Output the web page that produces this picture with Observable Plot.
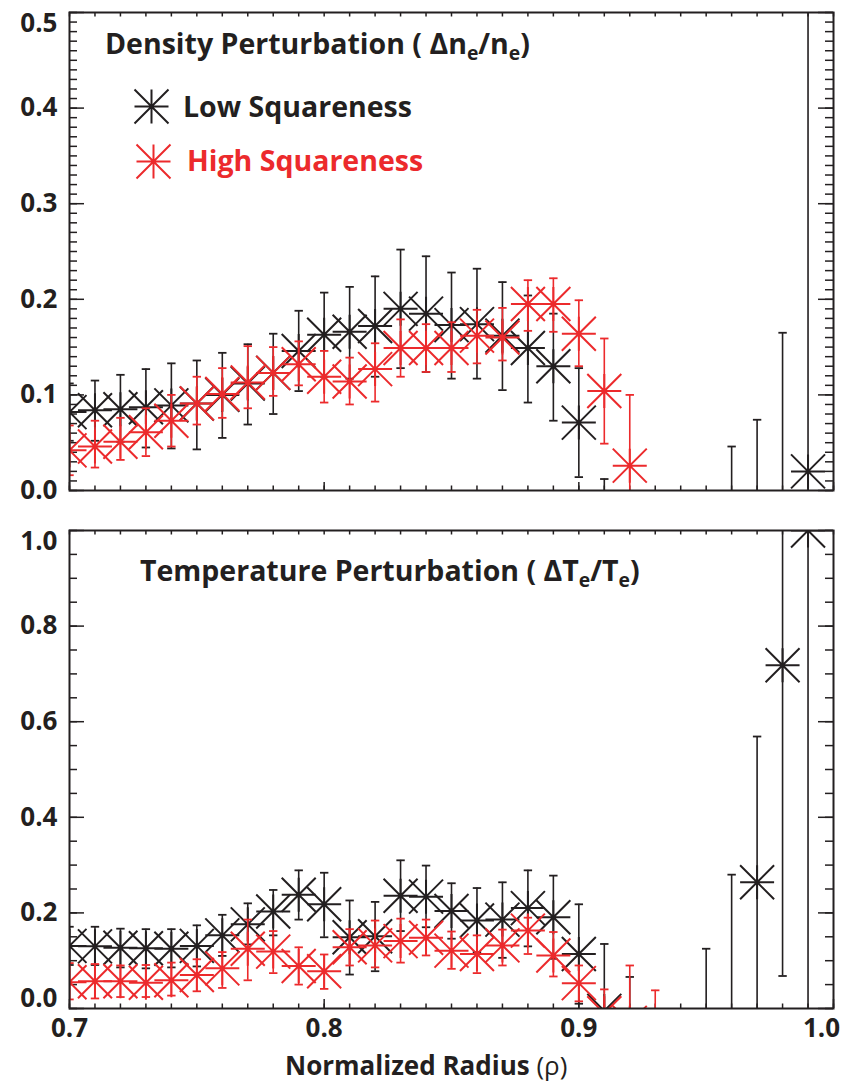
<!DOCTYPE html>
<html><head><meta charset="utf-8">
<script src="https://cdn.jsdelivr.net/npm/d3@7"></script>
<script src="https://cdn.jsdelivr.net/npm/@observablehq/plot@0.6"></script>
<style>
body{margin:0;background:#fff;}
#wrap{position:relative;width:846px;height:1082px;overflow:hidden;font-family:"Open Sans",sans-serif;color:#231f20;}
#wrap svg{display:block;}
.t{position:absolute;font-weight:700;white-space:nowrap;line-height:1;}
.t sub{font-size:0.68em;vertical-align:-0.32em;line-height:0;}
</style></head><body><div id="wrap"></div>
<script>
// ---------------- data ----------------
// Top panel: density perturbation, low squareness (black)
const denLowR  = [0.70,0.71,0.72,0.73,0.74,0.75,0.76,0.77,0.78,0.79,0.80,0.81,0.82,0.83,0.84,0.85,0.86,0.87,0.88,0.89,0.90,0.91,0.96,0.97,0.98,0.99];
const denLowV  = [0.082,0.084,0.085,0.087,0.089,0.091,0.100,0.112,0.123,0.146,0.163,0.166,0.172,0.190,0.185,0.173,0.174,0.162,0.149,0.130,0.071,-0.04,-0.05,-0.05,-0.05,0.020];
const denLowHi = [0.112,0.115,0.121,0.127,0.133,0.136,0.144,0.153,0.164,0.188,0.207,0.213,0.224,0.252,0.245,0.228,0.232,0.218,0.204,0.185,0.128,0.012,0.046,0.074,0.165,0.60];
const denLowLo = [0.052,0.052,0.051,0.045,0.044,0.043,0.055,0.069,0.080,0.104,0.119,0.117,0.119,0.128,0.124,0.117,0.117,0.105,0.092,0.073,0.014,-0.10,-0.15,-0.15,-0.15,-0.60];
// Top panel: density perturbation, high squareness (red)
const denHighR  = [0.70,0.71,0.72,0.73,0.74,0.75,0.76,0.77,0.78,0.79,0.80,0.81,0.82,0.83,0.84,0.85,0.86,0.87,0.88,0.89,0.90,0.91,0.92];
const denHighV  = [0.042,0.046,0.051,0.061,0.073,0.091,0.101,0.113,0.123,0.132,0.119,0.114,0.127,0.149,0.149,0.149,0.162,0.160,0.195,0.195,0.164,0.104,0.026];
const denHighHi = [0.068,0.073,0.076,0.086,0.100,0.119,0.128,0.151,0.150,0.156,0.146,0.139,0.154,0.179,0.174,0.176,0.189,0.191,0.220,0.222,0.199,0.159,0.100];
const denHighLo = [0.016,0.024,0.032,0.036,0.046,0.069,0.076,0.086,0.099,0.110,0.092,0.090,0.093,0.119,0.124,0.124,0.133,0.136,0.167,0.166,0.130,0.049,-0.050];
// Bottom panel: temperature perturbation, low squareness (black)
const temLowR  = [0.70,0.71,0.72,0.73,0.74,0.75,0.76,0.77,0.78,0.79,0.80,0.81,0.82,0.83,0.84,0.85,0.86,0.87,0.88,0.89,0.90,0.91,0.92,0.95,0.96,0.97,0.98,0.99];
const temLowV  = [0.131,0.130,0.127,0.126,0.125,0.131,0.153,0.176,0.203,0.238,0.218,0.149,0.151,0.236,0.234,0.204,0.184,0.186,0.210,0.191,0.114,-0.005,-0.05,-0.10,-0.10,0.264,0.718,1.00];
const temLowHi = [0.171,0.171,0.167,0.166,0.166,0.174,0.196,0.220,0.248,0.289,0.284,0.226,0.223,0.310,0.299,0.262,0.252,0.264,0.289,0.278,0.218,0.135,0.066,0.125,0.280,0.569,1.50,2.00];
const temLowLo = [0.091,0.091,0.086,0.084,0.086,0.088,0.110,0.134,0.153,0.186,0.149,0.071,0.078,0.162,0.170,0.146,0.118,0.106,0.130,0.104,0.010,-0.15,-0.17,-0.30,-0.40,-0.05,0.068,-0.10];
// Bottom panel: temperature perturbation, high squareness (red)
const temHighR  = [0.70,0.71,0.72,0.73,0.74,0.75,0.76,0.77,0.78,0.79,0.80,0.81,0.82,0.83,0.84,0.85,0.86,0.87,0.88,0.89,0.90,0.91,0.92,0.93];
const temHighV  = [0.055,0.057,0.057,0.054,0.059,0.070,0.084,0.125,0.119,0.089,0.078,0.128,0.132,0.141,0.148,0.121,0.114,0.132,0.163,0.111,0.053,-0.010,-0.030,-0.040];
const temHighHi = [0.095,0.093,0.090,0.091,0.096,0.103,0.118,0.186,0.162,0.128,0.113,0.166,0.184,0.188,0.186,0.161,0.153,0.165,0.190,0.160,0.090,0.040,0.090,0.038];
const temHighLo = [0.019,0.021,0.024,0.024,0.027,0.036,0.043,0.059,0.074,0.050,0.041,0.090,0.086,0.096,0.111,0.083,0.074,0.090,0.114,0.067,0.015,-0.060,-0.150,-0.120];

// axis ticks
const xMajor = [0.7, 0.8, 0.9, 1.0];
const xMinor = d3.range(70, 101).map(i => i / 100);
const denMajor = [0, 0.1, 0.2, 0.3, 0.4, 0.5];
const denMinor = d3.range(0, 51).map(i => i / 100);
const temMajor = [0, 0.2, 0.4, 0.6, 0.8, 1.0];
const temMinor = d3.range(0, 21).map(i => i / 20);

// ---------------- drawing ----------------
const INK = "#231f20", RED = "#ec2a2c";
const W = 846, ML = 69, MR = 13, FW = W - ML - MR, FH = 478;

const asterisk = {draw(c, size) {
  const r = Math.sqrt(size / Math.PI);
  c.moveTo(-r, 0); c.lineTo(r, 0);
  c.moveTo(0, -r); c.lineTo(0, r);
  c.moveTo(-r, -r); c.lineTo(r, r);
  c.moveTo(-r, r); c.lineTo(r, -r);
}};
const hcap = {draw(c, size) {
  const r = Math.sqrt(size / Math.PI);
  c.moveTo(-r, 0); c.lineTo(r, 0);
}};

const table = (R, V, Hi, Lo) => R.map((r, i) => ({r, v: V[i], hi: Hi[i], lo: Lo[i]}));

function seriesMarks(data, color) {
  return [
    Plot.ruleX(data, {x: "r", y1: "lo", y2: "hi", stroke: color, strokeWidth: 1.6, clip: true}),
    Plot.dot(data, {x: "r", y: "hi", symbol: hcap, r: 4.2, stroke: color, strokeWidth: 1.8, fill: "none", clip: true}),
    Plot.dot(data, {x: "r", y: "lo", symbol: hcap, r: 4.2, stroke: color, strokeWidth: 1.8, fill: "none", clip: true}),
    Plot.dot(data, {x: "r", y: "v", symbol: asterisk, r: 17, stroke: color, strokeWidth: 2, fill: "none", clip: true})
  ];
}

function tickMarks(yMajor, yMinor, bottomMajorLen) {
  const s = {stroke: INK, strokeWidth: 1.5};
  return [
    Plot.tickY(yMinor, {y: d => d, insetRight: FW - 8, ...s}),
    Plot.tickY(yMajor, {y: d => d, insetRight: FW - 15, ...s}),
    Plot.tickY(yMinor, {y: d => d, insetLeft: FW - 8, ...s}),
    Plot.tickY(yMajor, {y: d => d, insetLeft: FW - 15, ...s}),
    Plot.tickX(xMinor, {x: d => d, insetTop: FH - 4.5, ...s}),
    Plot.tickX(xMajor, {x: d => d, insetTop: FH - bottomMajorLen, ...s}),
    Plot.tickX(xMinor, {x: d => d, insetBottom: FH - 4.5, ...s})
  ];
}

const fmt = d3.format(".1f");
const lab = {tickSize: 0, tickPadding: 12, tickFormat: fmt, fontSize: 26, fontWeight: "bold", label: null};

function yLabels(major) {
  const n = major.length;
  return [
    Plot.axisY(major.slice(1, n - 1), {...lab}),
    Plot.axisY([major[n - 1]], {...lab, dy: 11}),
    Plot.axisY([major[0]], {...lab, dy: 0})
  ];
}

const wrap = document.getElementById("wrap");
const style = {fontFamily: "'Open Sans', sans-serif", fontWeight: "bold", fontSize: "26px", color: INK, background: "white", overflow: "visible"};

// top panel
const topPlot = Plot.plot({
  width: W, height: 500, marginLeft: ML, marginRight: MR, marginTop: 12, marginBottom: 10,
  style,
  x: {domain: [0.7, 1.0], axis: null},
  y: {domain: [0, 0.5], axis: null},
  marks: [
    ...tickMarks(denMajor, denMinor, 8),
    ...yLabels(denMajor),
    ...seriesMarks(table(denLowR, denLowV, denLowHi, denLowLo), INK),
    ...seriesMarks(table(denHighR, denHighV, denHighHi, denHighLo), RED),
    Plot.dot([0], {frameAnchor: "top-left", dx: 151 - ML, dy: 106 - 12, symbol: asterisk, r: 17, stroke: INK, strokeWidth: 2, fill: "none"}),
    Plot.dot([0], {frameAnchor: "top-left", dx: 153 - ML, dy: 161 - 12, symbol: asterisk, r: 17, stroke: RED, strokeWidth: 2, fill: "none"}),
    Plot.frame({stroke: INK, strokeWidth: 2})
  ]
});

// bottom panel
const botPlot = Plot.plot({
  width: W, height: 582, marginLeft: ML, marginRight: MR, marginTop: 30, marginBottom: 74,
  style,
  x: {domain: [0.7, 1.0], axis: null},
  y: {domain: [0, 1.0], axis: null},
  marks: [
    ...tickMarks(temMajor, temMinor, 9),
    Plot.axisY(temMajor.slice(1, 5), {...lab}),
    Plot.axisY([1.0], {...lab, dy: 11}),
    Plot.axisY([0], {...lab, dy: -10}),
    Plot.axisX(xMajor.slice(0, 3), {...lab, tickPadding: 10, anchor: "bottom"}),
    Plot.axisX([1.0], {...lab, tickPadding: 10, anchor: "bottom", dx: -12}),
    ...seriesMarks(table(temLowR, temLowV, temLowHi, temLowLo), INK),
    ...seriesMarks(table(temHighR, temHighV, temHighHi, temHighLo), RED),
    Plot.frame({stroke: INK, strokeWidth: 2})
  ]
});

wrap.appendChild(topPlot);
wrap.appendChild(botPlot);

function addText(html, left, baseline, size, color) {
  const d = document.createElement("div");
  d.className = "t";
  d.innerHTML = html;
  d.style.left = left + "px";
  d.style.fontSize = size + "px";
  d.style.color = color || INK;
  wrap.appendChild(d);
  const probe = document.createElement("span");
  probe.style.display = "inline-block"; probe.style.width = "0"; probe.style.height = "0"; probe.style.verticalAlign = "baseline";
  d.appendChild(probe);
  const off = probe.offsetTop;
  d.style.top = (baseline - off) + "px";
}

addText("Density Perturbation ( &Delta;n<sub>e</sub>/n<sub>e</sub>)", 105, 54, 28.5);
addText("Low Squareness", 183, 117, 28.5);
addText("High Squareness", 187, 171, 28.5, RED);
addText("Temperature Perturbation ( &Delta;T<sub>e</sub>/T<sub>e</sub>)", 140, 581, 28.5);
addText("Normalized Radius <span style='font-weight:400'>(&rho;)</span>", 285, 1075, 26);
</script>
</body></html>
